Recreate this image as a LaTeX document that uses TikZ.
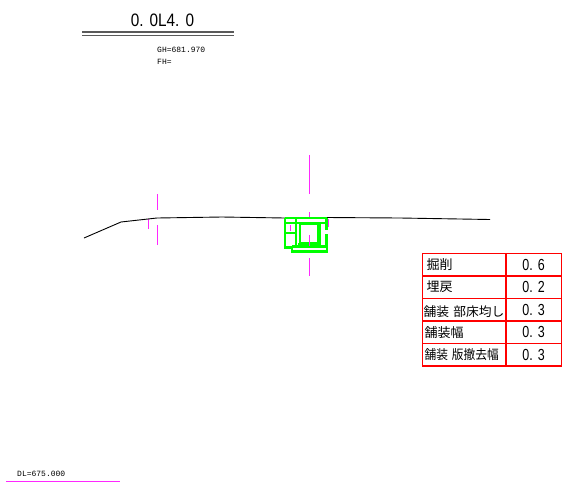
\documentclass[tikz,border=0pt]{standalone}
\usepackage{fontspec}
\setmainfont{Liberation Sans}
\newfontfamily\cjkfont{Noto Sans CJK JP}
\newfontfamily\cadmono{Liberation Mono}
\definecolor{cadpink}{RGB}{255,40,255}
\definecolor{cadgreen}{RGB}{0,255,0}
\definecolor{cadgrey}{RGB}{90,90,90}
\newcommand{\spc}{\hspace{0.4em}}
\tikzset{
  cell/.style={draw=red,line width=1.7pt,minimum height=22.5pt,inner sep=0pt,anchor=north west},
  labelcell/.style={cell,minimum width=83.5pt,text width=81pt,align=left,font=\cjkfont\fontsize{13pt}{14pt}\selectfont},
  numcell/.style={cell,minimum width=55.5pt,align=center,font=\fontsize{16pt}{17pt}\selectfont},
  smalltext/.style={font=\cadmono\fontsize{8pt}{9pt}\selectfont,inner sep=0pt,anchor=west},
  ground/.style={draw=black,line width=0.9pt},
  axisline/.style={draw=cadpink,line width=1.6pt},
  pipe/.style={draw=cadgreen,line width=2.2pt},
  pipethin/.style={draw=cadgreen,line width=1.6pt}
}
\begin{document}
\begin{tikzpicture}[x=1pt,y=-1pt]
\useasboundingbox (0,0) rectangle (573,483);
\fill[white] (0,0) rectangle (573,483);
% title
\node[font=\fontsize{18pt}{20pt}\selectfont,inner sep=0pt,xscale=.85] (title) at (162.5,20) {0.\spc 0L4.\spc 0};
\coordinate (ta) at (82,32); \coordinate (tb) at (233.5,32);
\coordinate (tc) at (82,35.5); \coordinate (td) at (233.5,35.5);
\draw[draw=cadgrey,line width=1.3pt] (ta) -- (tb);
\draw[draw=cadgrey,line width=1.3pt] (tc) -- (td);
\node[smalltext] (gh) at (157,49.5) {GH=681.970};
\node[smalltext] (fh) at (157,61.5) {FH=};
% axes
\draw[axisline] (309.5,155) -- (309.5,194);
\draw[axisline] (309.5,212) -- (309.5,217);
\draw[axisline] (309.5,258) -- (309.5,276);
\draw[axisline] (157.5,194) -- (157.5,210);
\draw[axisline] (157.5,225) -- (157.5,245);
\draw[axisline] (148.5,219) -- (148.5,229);
\draw[axisline] (328.5,219) -- (328.5,227);
% ground
\draw[ground] (84,238) -- (121,222) -- (157,218) -- (222,217) -- (285,218);
\draw[ground] (327,217.5) -- (400,218) -- (490,219.5);
% structure
\draw[pipe] (285,218) -- (326.5,218);
\draw[pipe] (285,223) -- (326.5,223);
\draw[pipe] (285,218) -- (285,247.5) -- (293,247.5);
\draw[pipe] (326.5,218) -- (326.5,230);
\draw[pipe] (326.5,234) -- (326.5,247);
\draw[pipe] (292,247) rectangle (327,251.5);
\draw[pipe] (285,233) -- (297,233);
\draw[pipethin] (296,218) -- (296,247);
\draw[pipethin] (300,224) rectangle (318,243);
\draw[pipe] (298,244) -- (320,244);
\draw[pipethin] (320,222) -- (320,245);
\draw[pipethin] (292,246) -- (327,246);
\draw[draw=white,line width=1pt,dash pattern=on 3pt off 2pt] (300,220.5) -- (319,220.5);
\draw[axisline] (290.5,225) -- (290.5,231);
\draw[axisline] (309.5,235) -- (309.5,246);
% table
\node[labelcell] (l1) at (421.5,252.5) {\hspace{3pt}\raisebox{-1pt}{掘削}};
\node[numcell]   (n1) at (505,252.5) {\scalebox{.78}[1]{0.\spc 6}};
\node[labelcell] (l2) at (421.5,275) {\hspace{3pt}\raisebox{-1pt}{埋戻}};
\node[numcell]   (n2) at (505,275) {\scalebox{.78}[1]{0.\spc 2}};
\node[labelcell] (l3) at (421.5,297.5) {\hspace{1pt}\scalebox{.98}[.98]{\raisebox{-1pt}{舗装 部床均し}}};
\node[numcell]   (n3) at (505,297.5) {\scalebox{.78}[1]{0.\spc 3}};
\node[labelcell] (l4) at (421.5,320) {\hspace{1pt}\raisebox{-1pt}{舗装幅}};
\node[numcell]   (n4) at (505,320) {\scalebox{.78}[1]{0.\spc 3}};
\node[labelcell] (l5) at (421.5,342.5) {\hspace{1pt}\scalebox{.9}[1]{\raisebox{-1pt}{舗装 版撤去幅}}};
\node[numcell]   (n5) at (505,342.5) {\scalebox{.78}[1]{0.\spc 3}};
% datum
\node[smalltext] (dl) at (17,473.5) {DL=675.000};
\coordinate (da) at (6,481.5); \coordinate (db) at (120,481.5);
\draw[axisline] (da) -- (db);
\end{tikzpicture}
\end{document}
